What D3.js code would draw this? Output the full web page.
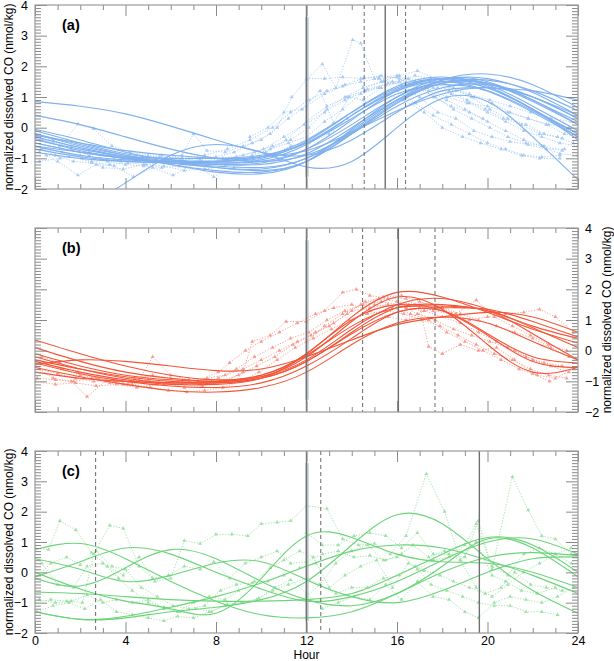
<!DOCTYPE html>
<html><head><meta charset="utf-8">
<script src="https://cdn.jsdelivr.net/npm/d3@7"></script>
<style>body{margin:0;background:#fff}svg{display:block;font-family:"Liberation Sans",Arial,Helvetica,sans-serif}</style>
</head><body><svg id="chart" width="614" height="661"></svg>
<script>
// ---------- data ----------
const xTicks = [0,4,8,12,16,20,24];
const yTicks = [-2,-1,0,1,2,3,4];
const fitHours = [0,2,4,6,8,10,12,14,16,18,20,22,24];
const yLabel = "normalized dissolved CO (nmol/kg)";
const xLabel = "Hour";
const panelLabels = ["(a)","(b)","(c)"];

// fitted curves, panel (a): values at fitHours
const curvesA = [
 [0.85,0.7,0.45,0.05,-0.4,-0.8,-0.9,-0.4,0.5,1.2,1.3,1.2,0.9],
 [-2.4,-2.5,-1.8,-0.9,-0.55,-0.8,-1.28,-1.1,0.0,0.95,0.85,-0.3,-1.7],
 [0.4,0.1,-0.3,-0.7,-1.0,-1.1,-0.9,-0.2,0.7,1.3,1.4,1.0,0.4],
 [-0.05,-0.4,-0.8,-1.05,-1.15,-1.1,-0.7,0.1,1.0,1.5,1.45,0.9,0.1],
 [-0.2,-0.6,-0.9,-1.1,-1.2,-1.2,-0.85,0.0,0.9,1.45,1.45,1.0,0.3],
 [-0.35,-0.75,-1.0,-1.15,-1.25,-1.3,-1.0,-0.1,0.9,1.55,1.6,1.15,0.4],
 [-0.5,-0.8,-1.0,-1.1,-1.15,-1.05,-0.55,0.4,1.25,1.6,1.4,0.7,-0.1],
 [-0.6,-0.9,-1.05,-1.1,-1.1,-1.0,-0.45,0.5,1.35,1.65,1.35,0.6,-0.3],
 [-0.7,-0.95,-1.1,-1.15,-1.2,-1.15,-0.7,0.25,1.2,1.6,1.45,0.85,0.1],
 [-0.8,-1.0,-1.1,-1.15,-1.3,-1.4,-1.1,-0.2,0.8,1.45,1.55,1.2,0.55],
 [-0.25,-0.5,-0.75,-0.9,-1.0,-0.95,-0.5,0.4,1.2,1.5,1.2,0.5,-0.3],
 [-0.3,-0.65,-0.95,-1.2,-1.4,-1.45,-1.1,-0.2,0.8,1.55,1.75,1.4,0.65],
 [-0.1,-0.5,-0.85,-1.05,-1.1,-0.95,-0.4,0.5,1.3,1.6,1.3,0.6,-0.2],
 [-0.6,-0.8,-0.95,-1.0,-1.0,-0.9,-0.5,0.3,1.1,1.4,1.2,0.55,-0.2],
 [-0.5,-0.8,-1.0,-1.1,-1.1,-0.95,-0.75,-0.15,0.55,1.1,1.3,1.0,0.3],
 [-0.4,-0.7,-0.95,-1.15,-1.3,-1.35,-1.0,-0.15,0.85,1.45,1.3,0.6,-0.4],
 [-0.2,-0.55,-0.9,-1.2,-1.45,-1.5,-1.1,-0.05,1.0,1.6,1.5,0.9,0.2]
];
// observed series, panel (a): [hour, value]
const obsA = [
 [[0.1,-0.3],[0.8,-0.5],[1.6,-0.6],[2.4,-0.8],[3.2,-0.9],[4.0,-1.0],[4.8,-1.0],[5.6,-1.1],[6.4,-1.05],[7.2,-1.0],[8.0,-0.95],[8.8,-0.8],[9.6,-0.5],[10.4,-0.2],[11.2,0.3],[12.0,0.7],[12.8,1.1],[13.6,1.35],[14.4,1.5],[15.2,1.6],[16.0,1.65],[16.8,1.5],[17.6,1.3],[18.4,1.1],[19.2,0.8],[20.0,0.5],[20.8,0.2],[21.6,-0.1],[22.4,-0.3],[23.2,-0.5],[24,-0.6]],
 [[0.2,-0.8],[1.0,-1.1],[1.9,-1.55],[2.7,-1.2],[3.5,-1.25],[4.35,-1.6],[5.2,-1.3],[6.1,-1.55],[7.0,-1.2],[7.9,-1.6],[8.8,-1.3],[9.6,-1.1],[10.5,-0.9],[11.3,-0.6],[12.1,-0.5],[13.0,-0.2],[13.8,0.3],[14.6,0.8],[15.5,1.1],[16.3,0.9],[17.2,0.5],[18.0,0.0],[18.9,-0.3],[19.7,-0.5],[20.6,-0.7],[21.5,-0.9],[22.3,-1.0],[23.2,-1.0]],
 [[0.3,-0.4],[1.1,-0.6],[1.9,0.12],[2.6,-0.04],[3.4,-0.6],[4.2,-0.8],[5.0,-0.9],[5.8,-1.0],[6.5,-0.9],[7.0,-0.2],[7.6,-0.75],[8.4,-0.8],[9.2,-0.6],[10.0,-0.4],[10.7,0.0],[11.35,1.0],[12.0,1.56],[12.7,2.07],[13.3,1.3],[14.04,2.86],[14.4,2.75],[15.0,1.6],[15.8,1.5],[16.6,1.4],[17.4,1.2],[18.2,0.9],[19.0,0.6],[19.8,0.3]],
 [[9.5,-0.3],[10.3,0.0],[11.0,0.5],[11.8,0.6],[12.6,1.2],[13.2,0.15],[13.9,1.0],[14.5,0.9],[15.3,1.3],[16.1,1.5],[16.8,1.7],[17.5,1.6],[18.3,1.2],[19.1,0.9],[19.9,0.6],[20.7,0.3],[21.5,0.1],[22.3,-0.2],[23.1,-0.3],[23.8,-0.5]],
 [[0.0,-0.6],[0.9,-0.9],[1.7,-1.1],[2.5,-1.15],[3.3,-1.2],[4.1,-1.15],[4.9,-1.2],[5.7,-1.1],[6.5,-1.15],[7.3,-1.05],[8.1,-1.1],[8.9,-0.95],[9.7,-0.8],[10.5,-0.6],[11.3,-0.4],[12.1,0.0],[12.9,0.6],[13.7,1.0],[14.5,1.3],[15.3,1.5],[16.1,1.7],[16.9,1.85],[17.7,1.6],[18.5,1.3],[19.3,1.0],[20.1,0.6],[20.9,0.3],[21.7,0.1],[22.5,-0.2],[23.3,-0.35]],
 [[12.0,1.6],[12.8,1.6],[13.6,1.65],[14.4,1.6],[15.2,1.65],[16.0,1.7],[16.8,1.5],[17.6,1.0],[18.4,0.7],[19.2,0.5],[20.0,0.2],[20.8,-0.1],[21.6,-0.4],[22.4,-0.6],[23.2,-0.85],[24.0,-0.9]],
 [[0.0,-0.2],[0.8,-0.4],[1.6,-0.7],[2.4,-0.9],[3.2,-1.1],[4.0,-1.2],[4.8,-1.25],[5.6,-1.3],[6.4,-1.25],[7.2,-1.2],[8.0,-1.15],[8.8,-1.05],[9.6,-0.9],[10.4,-0.7],[11.2,-0.5],[12.0,-0.3],[12.8,0.2],[13.6,0.6],[14.4,1.1],[15.2,1.3],[16.0,1.2],[16.8,0.8],[17.6,0.4],[18.4,0.1],[19.2,-0.2],[20.0,-0.5],[20.8,-0.7],[21.6,-0.9],[22.4,-0.95],[23.2,-0.9]],
 [[0.2,-1.1],[1.1,-1.0],[2.0,-0.9],[2.9,-1.0],[3.8,-1.1],[4.7,-1.0],[5.6,-0.9],[6.5,-1.0],[7.4,-1.1],[8.3,-1.0],[9.2,-0.9],[10.1,-0.7],[11.0,-0.3],[11.9,0.1],[12.8,0.5],[13.7,0.9],[14.6,1.2],[15.5,1.4],[16.4,1.5],[17.3,1.3],[18.2,1.0],[19.1,0.8],[20.0,0.7],[20.9,0.5],[21.8,0.3],[22.7,0.1],[23.6,0.0]],
 [[0.3,-0.7],[1.2,-0.8],[2.1,-1.0],[3.0,-1.3],[3.9,-1.35],[4.8,-1.2],[5.7,-1.25],[6.6,-1.4],[7.5,-1.35],[8.4,-1.25],[9.3,-1.1],[10.2,-0.8],[11.1,-0.4],[12.0,0.2],[12.9,0.7],[13.8,1.0],[14.7,1.25],[15.6,1.45],[16.5,1.6],[17.4,1.55],[18.3,1.35],[19.2,1.1],[20.1,0.9],[21.0,0.7],[21.9,0.5],[22.8,0.3],[23.7,0.2]],
 [[14.5,1.3],[15.4,1.5],[16.2,1.4],[17.0,1.0],[17.8,0.5],[18.6,0.3],[19.4,-0.1],[20.2,-0.3],[21.0,-0.45],[21.8,-0.55],[22.6,-0.7],[23.4,-0.7]],
 [[0.5,-0.9],[1.5,-0.95],[2.5,-1.1],[3.5,-1.05],[4.5,-1.0],[5.5,-0.95],[6.5,-1.0],[7.5,-0.9],[8.5,-0.7],[9.5,-0.4],[10.5,0.0],[11.3,0.5],[12.1,0.9],[12.9,1.2],[13.7,1.4],[14.5,1.6],[15.3,1.7],[16.1,1.6],[16.9,1.3],[17.7,1.0],[18.5,0.6],[19.3,0.3],[20.1,0.0],[20.9,-0.3],[21.7,-0.5],[22.5,-0.6],[23.3,-0.75]],
 [[17.0,1.5],[17.8,1.3],[18.6,1.2],[19.4,1.0],[20.2,0.8],[21.0,0.5],[21.8,0.3],[22.6,0.1],[23.4,-0.2],[24.0,-0.3]]
];

// panel (b)
const curvesB = [
 [0.35,-0.1,-0.5,-0.8,-0.95,-0.8,-0.1,1.1,1.9,1.75,1.25,0.7,0.25],
 [0.1,-0.35,-0.7,-0.9,-1.0,-0.85,-0.2,0.95,1.75,1.35,0.2,-0.7,-0.55],
 [-0.1,-0.5,-0.8,-0.95,-1.0,-0.85,-0.3,0.7,1.5,1.7,1.35,0.8,0.4],
 [-0.3,-0.6,-0.85,-1.0,-1.05,-0.9,-0.35,0.6,1.4,1.5,1.3,0.75,0.1],
 [-0.4,-0.75,-1.0,-1.15,-1.2,-1.05,-0.5,0.4,1.25,1.4,1.35,0.95,0.45],
 [-0.45,-0.3,-0.35,-0.5,-0.65,-0.6,-0.2,0.35,0.85,1.1,1.25,1.1,0.6],
 [-0.55,-0.85,-1.1,-1.3,-1.35,-1.2,-0.7,0.2,0.9,1.1,0.9,0.3,-0.3],
 [-0.7,-0.9,-1.0,-1.05,-1.05,-0.9,-0.35,0.55,1.25,1.3,0.55,-0.2,-0.4],
 [-0.2,-0.6,-0.9,-1.05,-1.0,-0.8,-0.15,0.8,1.4,1.45,1.3,0.55,-0.3],
 [-0.35,-0.7,-0.95,-1.1,-1.1,-0.9,-0.1,1.0,1.5,1.3,0.5,-0.35,-0.55]
];
const obsB = [
 [[0.0,-0.5],[0.8,-0.9],[1.6,-1.0],[2.3,-1.5],[3.1,-1.0],[3.9,-1.1],[4.6,-0.95],[5.2,-0.2],[6.0,-0.8],[6.8,-0.95],[7.6,-1.05],[8.4,-1.0],[9.2,-0.7],[9.6,0.3],[10.4,0.5],[11.1,0.95],[12.0,0.95],[12.8,1.3],[13.6,1.9],[14.2,2.0],[14.8,1.8],[15.6,1.7],[16.4,1.7],[17.0,1.4],[17.4,0.13],[18.0,-0.1],[18.8,0.2],[19.6,0.0],[20.4,0.1],[21.2,-0.3],[22.0,-0.75],[22.75,-1.0]],
 [[0.1,-0.9],[0.9,-0.95],[1.7,-1.0],[2.5,-0.9],[3.3,-1.05],[4.1,-1.1],[4.9,-1.0],[5.7,-1.1],[6.5,-1.0],[7.3,-1.1],[8.1,-0.9],[8.9,-0.6],[9.7,-0.2],[10.5,0.1],[11.3,0.4],[12.1,0.6],[12.9,1.0],[13.7,1.3],[14.5,1.5],[15.3,1.6],[16.1,1.5],[16.9,1.2],[17.7,1.0],[18.5,0.7],[19.3,0.5],[20.1,0.3],[20.9,0.1],[21.7,-0.2],[22.5,-0.4],[23.3,-0.5]],
 [[0.2,-0.6],[1.0,-0.75],[1.8,-0.9],[2.6,-1.0],[3.4,-0.95],[4.2,-1.0],[5.0,-0.95],[5.8,-1.05],[6.6,-1.2],[7.4,-1.15],[8.2,-1.0],[9.0,-0.8],[9.8,-0.5],[10.6,-0.2],[11.4,0.2],[12.2,0.5],[13.0,0.8],[13.8,1.2],[14.6,1.6],[15.4,1.75],[16.2,1.8],[17.0,1.6],[17.8,1.4],[18.6,1.2],[19.5,1.65],[20.3,1.1],[21.1,0.8],[21.9,0.5],[22.7,0.2],[23.5,0.0]],
 [[0.3,-0.2],[1.1,-0.4],[1.9,-0.7],[2.7,-0.9],[3.5,-1.0],[4.3,-1.1],[5.1,-1.2],[5.9,-1.3],[6.7,-1.35],[7.5,-1.3],[8.3,-1.2],[9.1,-1.0],[9.9,-0.7],[10.7,-0.3],[11.5,0.1],[12.3,0.4],[13.1,0.7],[13.9,1.0],[14.7,1.2],[15.5,1.3],[16.3,1.2],[17.1,1.0],[17.9,0.8],[18.7,0.5],[19.5,0.2],[20.3,-0.1],[21.1,-0.3],[21.9,-0.6],[22.7,-0.8],[23.5,-0.9]],
 [[12.0,0.3],[12.8,0.8],[13.6,1.2],[14.4,1.5],[15.2,1.7],[16.0,1.6],[16.8,1.5],[17.6,1.3],[18.4,1.2],[19.2,1.0],[20.0,1.1],[20.8,1.2],[21.6,1.25],[22.3,1.35],[23.0,1.1],[23.8,0.6]],
 [[0.0,-1.0],[0.9,-1.1],[1.8,-1.05],[2.7,-1.15],[3.6,-1.1],[4.5,-1.2],[5.4,-1.1],[6.3,-1.0],[7.2,-1.0],[8.1,-0.7],[8.6,-0.4],[9.3,0.0],[10.0,0.3],[10.8,0.6],[11.6,0.9],[12.4,1.2],[13.2,1.4],[14.0,1.5],[14.8,1.3],[15.6,1.1],[16.4,1.0],[17.2,1.3],[18.0,1.1],[18.8,0.9],[19.6,0.6],[20.4,0.3],[21.2,0.0],[22.0,-0.3],[22.8,-0.5],[23.6,-0.7]],
 [[15.0,1.5],[15.8,1.4],[16.6,1.2],[17.4,1.0],[18.2,0.6],[19.0,0.3],[19.8,0.0],[20.6,-0.3],[21.4,-0.6],[22.2,-0.8],[23.0,-0.9],[23.8,-0.6]],
 [[0.4,-0.4],[1.2,-0.6],[2.0,-0.8],[2.8,-0.9],[3.6,-1.0],[4.4,-0.9],[5.2,-0.8],[6.0,-0.9],[6.8,-1.0],[7.6,-0.9],[8.4,-0.8],[9.2,-0.6],[10.0,-0.3],[10.8,0.0],[11.6,0.3],[12.4,0.6],[13.2,0.9],[14.0,1.3],[14.8,1.4],[15.6,1.5],[16.4,1.4],[17.2,1.3],[18.0,1.4],[18.8,1.2],[19.6,1.0],[20.4,0.8],[21.2,0.6],[22.0,0.4],[22.8,0.1],[23.6,-0.2]]
];

// panel (c)
const curvesC = [
 [0.75,0.95,0.45,-0.3,-0.95,-1.4,-1.5,-1.3,-0.7,0.0,0.5,0.65,0.55],
 [-0.15,0.35,0.8,0.6,0.0,-0.55,-0.95,-0.8,-0.3,0.4,1.0,1.1,0.6],
 [-0.2,-0.45,0.15,0.75,0.45,-0.3,-0.9,-1.1,-0.7,0.2,1.1,0.8,-0.15],
 [0.45,0.1,-0.3,-0.1,0.3,0.35,-0.25,-0.8,-1.0,-0.6,0.0,0.45,0.5],
 [-1.3,-1.55,-1.5,-1.3,-1.15,-0.9,-0.3,0.9,1.9,1.6,0.45,-0.6,-1.35],
 [0.0,-0.55,-0.95,-1.2,-1.35,-0.2,1.2,1.15,0.6,0.35,0.3,0.0,-0.5],
 [-0.65,-0.7,-0.8,-0.9,-0.95,-0.95,-0.9,-0.7,-0.1,0.6,1.15,0.9,0.0],
 [-1.3,-1.55,-1.45,-1.15,-0.8,-0.35,0.2,0.7,0.9,0.8,0.4,-0.1,-0.7]
];
const obsC = [
 [[0.0,0.8],[0.6,0.75],[1.1,1.7],[1.8,1.4],[2.5,0.65],[3.2,0.2],[3.9,-0.1],[4.6,0.5],[5.3,-0.3],[6.0,-0.2],[6.6,1.05],[7.3,0.95],[8.0,1.25],[8.7,1.25],[9.4,1.2],[10.0,1.6],[10.7,1.65],[11.3,1.7],[12.0,2.2],[12.9,2.1],[13.6,1.1],[14.3,0.9],[15.0,0.95],[15.7,0.6],[16.4,1.2],[17.3,3.25],[18.1,2.0],[18.8,0.4],[19.5,1.0],[20.2,-0.1],[20.8,-0.3],[21.5,-0.6],[22.2,-0.7],[23.0,-0.5]],
 [[0.0,-1.0],[0.7,-0.9],[1.4,-0.95],[2.1,-1.0],[2.6,0.6],[3.3,1.55],[3.9,1.45],[4.6,0.2],[5.2,-0.2],[5.9,-0.1],[6.6,0.2],[7.3,0.1],[7.9,0.35],[8.6,-0.2],[9.3,0.3],[10.0,0.5],[10.7,0.7],[11.3,0.3],[12.0,0.35],[12.7,0.6],[13.4,0.7],[14.1,0.5],[14.8,0.55],[15.5,0.4],[16.2,0.6],[16.9,0.1],[17.6,0.4],[18.3,0.5],[19.0,0.9],[19.5,1.6],[20.2,0.2],[20.9,-0.1],[21.6,0.6],[22.3,0.8],[23.0,0.6],[23.7,0.3]],
 [[0.3,0.3],[1.0,-0.4],[1.7,-0.5],[2.3,0.2],[3.0,0.3],[3.7,-0.2],[4.3,-0.6],[5.0,-1.0],[5.7,-1.15],[6.3,-1.3],[7.0,-1.0],[7.7,-0.8],[8.4,-0.9],[9.0,-0.6],[9.7,-0.3],[10.4,0.15],[11.0,0.4],[11.7,0.7],[12.3,0.5],[13.0,-0.5],[13.7,-0.1],[14.4,0.2],[15.1,0.4],[15.8,-0.5],[16.5,0.3],[17.2,0.05],[17.9,-0.1],[18.5,-0.3],[19.2,-0.5],[19.9,-0.7],[20.6,-0.5],[21.2,0.0],[21.9,-0.4],[22.6,-0.5],[23.3,-0.6]],
 [[0.2,-0.9],[0.9,-1.0],[1.6,-0.95],[2.3,-0.75],[3.0,-1.0],[3.6,-0.9],[4.3,-1.0],[5.0,-0.9],[5.7,-1.2],[6.4,-1.3],[7.1,-1.2],[7.8,-1.3],[8.5,-1.05],[9.2,-1.0],[9.9,-0.85],[10.6,-0.5],[11.3,-0.25],[12.0,-0.7],[12.7,-1.2],[13.4,-1.0],[14.1,-0.8],[14.8,-0.9],[15.5,-0.4],[16.2,-0.9],[16.9,-0.3],[17.6,-0.8],[18.3,-0.9],[19.0,-1.3],[19.6,-1.5],[20.3,-1.0],[21.0,-0.8],[21.7,-0.9],[22.4,-1.0],[23.1,-0.8],[23.8,-0.5]],
 [[0.1,-1.3],[0.8,-1.1],[1.5,-1.0],[2.2,-1.2],[2.9,-0.9],[3.6,-1.3],[4.3,-1.4],[5.0,-1.5],[5.7,-1.6],[6.3,-1.45],[7.0,-1.5],[7.7,-1.3],[8.4,-1.1],[9.1,-1.0],[9.8,-0.9],[10.5,-0.6],[11.2,-0.4],[12.0,-0.2],[12.6,-0.4],[13.3,-0.7],[14.0,-0.5],[14.7,-0.5],[15.4,-0.2],[16.1,-0.1],[16.8,0.2],[17.5,-0.4],[18.2,-0.6],[18.9,-0.8],[19.6,-1.0],[20.3,-1.1],[21.0,-1.1],[21.7,-1.3],[22.4,-1.3],[23.1,-1.4]],
 [[12.0,1.3],[12.7,0.9],[13.4,0.9],[14.1,1.2],[14.8,1.3],[15.5,1.2],[16.2,0.8],[16.9,1.3],[17.6,0.6],[18.3,0.6],[19.0,0.5],[19.6,1.7],[20.2,0.1],[21.1,3.15],[21.8,2.05],[22.4,1.2],[23.0,1.1],[23.7,0.6]],
 [[12.0,-0.8],[12.6,-0.4],[13.3,0.3],[14.0,0.7],[14.7,0.9],[15.4,0.4],[16.0,0.5],[16.7,0.9],[17.4,0.5],[18.1,0.7],[18.8,0.4],[19.5,-0.5],[20.2,-0.8],[20.9,-0.4],[21.6,0.0],[22.3,0.3],[23.0,0.6],[23.7,0.8]],
 [[0.0,-0.2],[0.7,0.3],[1.4,0.5],[2.0,0.25],[2.7,0.7],[3.4,0.2],[4.0,0.1],[4.7,-0.5],[5.4,-0.8],[6.1,-1.1],[6.8,-1.2],[7.5,-1.1],[8.2,-0.6],[8.9,-0.4],[9.6,-0.35],[10.3,-0.3],[11.0,-0.1],[11.7,0.15],[12.4,0.3]]
];

// reference hours (vertical lines)
const solidA = [12, 15.48], dashA = [14.55, 16.38];
const solidB = [12, 16.06], dashB = [14.48, 17.68];
const solidC = [12, 19.64], dashC = [2.68, 12.63];
const bandHour = 12, bandRange = [-1.6, 3.6];

// ---------- drawing ----------
const svg = d3.select("#chart");
const W = 543;
const FONT = '"Liberation Sans",Arial,sans-serif';
const panels = [
  {top:5,   h:184, curves:curvesA, obs:obsA, solid:solidA, dash:dashA, line:"#7fb0ef", dot:"#a3c7f4", side:"left",  xlab:false, label:panelLabels[0]},
  {top:228, h:184, curves:curvesB, obs:obsB, solid:solidB, dash:dashB, line:"#f25538", dot:"#f7958a", side:"right", xlab:false, label:panelLabels[1]},
  {top:451, h:182, curves:curvesC, obs:obsC, solid:solidC, dash:dashC, line:"#6cd47a", dot:"#96e0a0", side:"left",  xlab:true,  label:panelLabels[2]}
];
const minorX = d3.range(0,25).filter(v => v % 4 !== 0);
const minorY = d3.range(-20,41).map(v => v/10).filter(v => Math.abs(v - Math.round(v)) > 1e-6);

panels.forEach((p, i) => {
  const g = svg.append("g").attr("transform", `translate(35,${p.top})`);
  const x = d3.scaleLinear().domain([0,24]).range([0,W]);
  const y = d3.scaleLinear().domain([-2,4]).range([p.h,0]);
  const cid = "clip" + i;
  svg.append("clipPath").attr("id", cid).append("rect").attr("width", W).attr("height", p.h);
  const plot = g.append("g").attr("clip-path", `url(#${cid})`);

  // grey band at noon
  plot.append("rect")
    .attr("x", x(bandHour) - 1.5).attr("width", 4)
    .attr("y", y(bandRange[1])).attr("height", y(bandRange[0]) - y(bandRange[1]))
    .attr("fill", "#cfd6dc");

  // observed dotted series
  const obsLine = d3.line().x(d => x(d[0])).y(d => y(d[1]));
  const tri = d3.symbol().type(d3.symbolTriangle).size(7);
  p.obs.forEach(s => {
    plot.append("path").attr("d", obsLine(s)).attr("fill","none")
      .attr("stroke", p.dot).attr("stroke-width", 0.9).attr("stroke-dasharray","1.2,1.6");
    plot.append("g").selectAll("path").data(s).join("path")
      .attr("d", tri).attr("transform", d => `translate(${x(d[0])},${y(d[1])})`)
      .attr("fill", p.dot).attr("opacity", 0.9);
  });

  // fitted curves
  const fitLine = d3.line().x((d,k) => x(fitHours[k])).y(d => y(d)).curve(d3.curveNatural);
  p.curves.forEach(c => {
    plot.append("path").attr("d", fitLine(c)).attr("fill","none")
      .attr("stroke", p.line).attr("stroke-width", 1.1);
  });

  // vertical reference lines
  p.solid.forEach(h => {
    g.append("line").attr("x1", x(h)).attr("x2", x(h)).attr("y1", 0).attr("y2", p.h)
      .attr("stroke", "#6f6f6f").attr("stroke-width", 1.4);
  });
  p.dash.forEach(h => {
    g.append("line").attr("x1", x(h)).attr("x2", x(h)).attr("y1", 0).attr("y2", p.h)
      .attr("stroke", "#6a6a6a").attr("stroke-width", 1).attr("stroke-dasharray","4,3");
  });

  // ticks
  const tc = "#8a8a8a";
  const addAxis = (axis, tx, ty) => {
    const a = g.append("g").attr("transform", `translate(${tx},${ty})`).call(axis);
    a.select(".domain").remove();
    a.selectAll("line").attr("stroke", tc).attr("stroke-width", 1);
    a.selectAll("text").attr("font-size", 12.5).attr("fill", "#000").attr("font-family", FONT);
    return a;
  };
  addAxis(d3.axisBottom(x).tickValues(xTicks).tickSize(-11).tickPadding(3).tickFormat(p.xlab ? d3.format("d") : ""), 0, p.h);
  addAxis(d3.axisBottom(x).tickValues(minorX).tickSize(-5).tickFormat(""), 0, p.h);
  addAxis(d3.axisTop(x).tickValues(xTicks).tickSize(-11).tickFormat(""), 0, 0);
  addAxis(d3.axisTop(x).tickValues(minorX).tickSize(-5).tickFormat(""), 0, 0);
  addAxis(d3.axisLeft(y).tickValues(yTicks).tickSize(-12).tickPadding(7).tickFormat(p.side === "left" ? d3.format("d") : ""), 0, 0);
  addAxis(d3.axisLeft(y).tickValues(minorY).tickSize(-6).tickFormat(""), 0, 0);
  addAxis(d3.axisRight(y).tickValues(yTicks).tickSize(-12).tickPadding(7).tickFormat(p.side === "right" ? d3.format("d") : ""), W, 0);
  addAxis(d3.axisRight(y).tickValues(minorY).tickSize(-6).tickFormat(""), W, 0);

  // frame
  g.append("rect").attr("width", W).attr("height", p.h).attr("fill","none")
    .attr("stroke", "#9a9a9a").attr("stroke-width", 1.2);

  // panel label
  g.append("text").attr("x", 27).attr("y", 25).text(p.label)
    .attr("font-size", 14.5).attr("font-weight", "bold").attr("fill", "#000").attr("font-family", FONT);

  // y title
  const ty = p.side === "left" ? -22 : W + 32.5;
  g.append("text").attr("transform", `translate(${ty},${p.h/2}) rotate(-90)`)
    .attr("text-anchor","middle").attr("font-size", 12).attr("fill","#000")
    .attr("font-family", FONT).text(yLabel);

  if (p.xlab) {
    g.append("text").attr("x", x(12)).attr("y", p.h + 25.5).attr("text-anchor","middle")
      .attr("font-size", 12).attr("fill","#000").attr("font-family", FONT).text(xLabel);
  }
});
</script></body></html>
